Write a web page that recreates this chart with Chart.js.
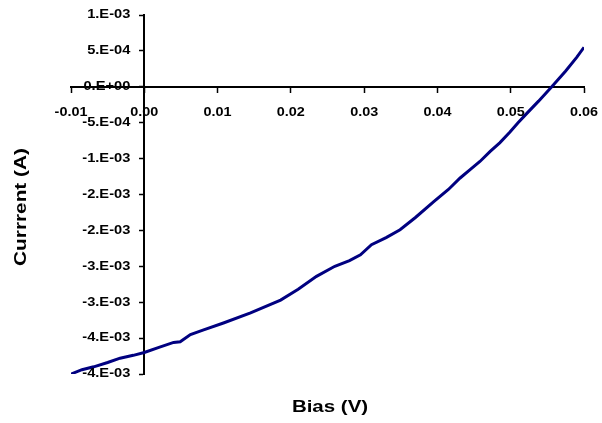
<!DOCTYPE html>
<html>
<head>
<meta charset="utf-8">
<script src="https://cdn.jsdelivr.net/npm/chart.js@4"></script>
<style>
  body { margin: 0; background: #fff; }
  #wrap { width: 602px; height: 423px; }
</style>
</head>
<body>
<div id="wrap"><canvas id="ivChart"></canvas></div>
<script>
// bias (V) and current (A)
const bias = [-0.01, -0.0085, -0.0069, -0.005, -0.0033, -0.0015, 0.0, 0.002, 0.004, 0.0049,
  0.0063, 0.008, 0.0108, 0.0145, 0.0186, 0.021, 0.0235, 0.026, 0.028, 0.0295,
  0.031, 0.033, 0.0349, 0.037, 0.0395, 0.0415, 0.0431, 0.0445, 0.0458, 0.0472,
  0.0485, 0.0499, 0.051, 0.0522, 0.0538, 0.0556, 0.0575, 0.059, 0.06];
const current = [-4.00e-3, -3.94e-3, -3.90e-3, -3.84e-3, -3.78e-3, -3.74e-3, -3.70e-3, -3.63e-3, -3.56e-3, -3.55e-3,
  -3.45e-3, -3.39e-3, -3.29e-3, -3.15e-3, -2.97e-3, -2.82e-3, -2.64e-3, -2.50e-3, -2.42e-3, -2.34e-3,
  -2.20e-3, -2.10e-3, -1.99e-3, -1.82e-3, -1.60e-3, -1.43e-3, -1.27e-3, -1.15e-3, -1.04e-3, -0.90e-3,
  -0.78e-3, -0.63e-3, -0.50e-3, -0.37e-3, -0.20e-3, 0.00e-3, 0.22e-3, 0.41e-3, 0.55e-3];

// tick labels, bottom to top / left to right
const xTickLabels = ['-0.01', '0.00', '0.01', '0.02', '0.03', '0.04', '0.05', '0.06'];
const yTickLabels = ['-4.E-03', '-4.E-03', '-3.E-03', '-3.E-03', '-2.E-03', '-2.E-03',
  '-1.E-03', '-5.E-04', '0.E+00', '5.E-04', '1.E-03'];

const xTitle = 'Bias (V)';
const yTitle = 'Currrent (A)';

const FONT = 'Liberation Sans, Arial, sans-serif';

// the old excel export is a bit stretched sideways, so text gets a scaleX
function stretchedText(ctx, text, x, y, sx, align) {
  ctx.save();
  ctx.translate(x, y);
  ctx.scale(sx, 1);
  ctx.textAlign = align;
  ctx.fillText(text, 0, 0);
  ctx.restore();
}

// the axes sit on the zero lines, so labels are placed by hand next to them
const axisText = {
  id: 'axisText',
  afterDraw(chart) {
    const ctx = chart.ctx;
    const xs = chart.scales.x, ys = chart.scales.y;
    const x0 = xs.getPixelForValue(0), y0 = ys.getPixelForValue(0);
    ctx.save();
    ctx.fillStyle = '#000';
    ctx.textBaseline = 'middle';
    ctx.font = 'bold 12px ' + FONT;
    xs.ticks.forEach((t, i) => {
      stretchedText(ctx, xTickLabels[i], xs.getPixelForValue(t.value), y0 + 26, 1.2, 'center');
    });
    ys.ticks.forEach((t, i) => {
      stretchedText(ctx, yTickLabels[i], x0 - 14, ys.getPixelForValue(t.value), 1.22, 'right');
    });
    ctx.font = 'bold 16px ' + FONT;
    stretchedText(ctx, xTitle, 330, 408, 1.28, 'center');
    ctx.translate(22, 207);
    ctx.rotate(-Math.PI / 2);
    stretchedText(ctx, yTitle, 0, 0, 1.3, 'center');
    ctx.restore();
  }
};

const points = bias.map((b, i) => ({x: b, y: current[i]}));

new Chart(document.getElementById('ivChart'), {
  type: 'scatter',
  data: {
    datasets: [{
      data: points,
      showLine: true,
      borderColor: '#000080',
      borderWidth: 3,
      pointRadius: 0,
      tension: 0
    }]
  },
  options: {
    responsive: true,
    maintainAspectRatio: false,
    animation: false,
    layout: { padding: { left: 71, right: 18, top: 15, bottom: 49 } },
    plugins: { legend: { display: false }, tooltip: { enabled: false } },
    scales: {
      x: {
        type: 'linear',
        position: { y: 0 },
        min: -0.01,
        max: 0.06,
        border: { color: '#000', width: 2 },
        grid: { drawOnChartArea: false, color: '#000', tickLength: 5, tickWidth: 1.5 },
        ticks: { stepSize: 0.01, display: false }
      },
      y: {
        type: 'linear',
        position: { x: 0 },
        min: -4e-3,
        max: 1e-3,
        border: { color: '#000', width: 2 },
        grid: { drawOnChartArea: false, color: '#000', tickLength: 4, tickWidth: 1.5 },
        ticks: { stepSize: 5e-4, display: false }
      }
    }
  },
  plugins: [axisText]
});
</script>
</body>
</html>
